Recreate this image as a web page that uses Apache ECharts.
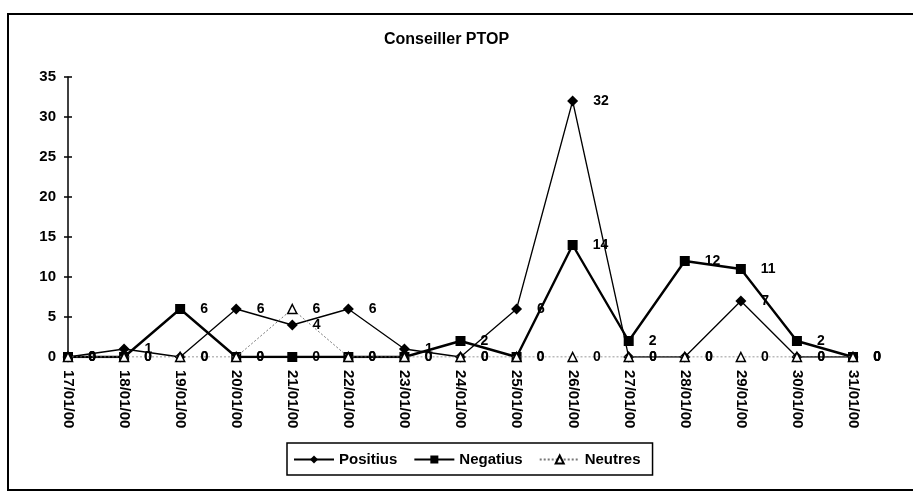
<!DOCTYPE html>
<html>
<head>
<meta charset="utf-8">
<script src="https://cdn.jsdelivr.net/npm/echarts@6/dist/echarts.min.js"></script>
<style>
html,body{margin:0;padding:0;background:#fff;}
#chart{width:913px;height:493px;}
</style>
</head>
<body>
<div id="chart"></div>
<script>
const categories = ['17/01/00','18/01/00','19/01/00','20/01/00','21/01/00','22/01/00','23/01/00','24/01/00','25/01/00','26/01/00','27/01/00','28/01/00','29/01/00','30/01/00','31/01/00'];
const positius = [0, 1, 0, 6, 4, 6, 1, 0, 6, 32, 0, 0, 7, 0, 0];
const negatius = [0, 0, 6, 0, 0, 0, 0, 2, 0, 14, 2, 12, 11, 2, 0];
const neutres  = [0, 0, 0, 0, 6, 0, 0, 0, 0, 0, 0, 0, 0, 0, 0];
const yTicks = [0, 5, 10, 15, 20, 25, 30, 35];

const FONT = '"Liberation Sans", Arial, sans-serif';
const chart = echarts.init(document.getElementById('chart'));

const labelStyle = {
  show: true,
  position: 'right',
  distance: 15,
  color: '#000',
  fontFamily: FONT,
  fontWeight: 'bold',
  fontSize: 14
};

chart.setOption({
  backgroundColor: '#fff',
  animation: false,
  title: {
    text: 'Conseiller PTOP',
    left: 379,
    top: 27,
    textStyle: { fontFamily: FONT, fontWeight: 'bold', fontSize: 16, color: '#000' }
  },
  graphic: [{
    type: 'rect',
    shape: { x: 8, y: 14, width: 920, height: 476 },
    style: { fill: 'none', stroke: '#000', lineWidth: 2 },
    silent: true
  }],
  legend: {
    left: 287,
    top: 443,
    padding: [9, 12, 8, 6],
    itemGap: 16,
    itemWidth: 40,
    itemHeight: 10,
    borderColor: '#000',
    borderWidth: 1.5,
    textStyle: { fontFamily: FONT, fontWeight: 'bold', fontSize: 15, color: '#000' },
    data: ['Positius', 'Negatius', 'Neutres']
  },
  grid: { left: 68, right: 60, top: 77, bottom: 136, containLabel: false },
  xAxis: {
    type: 'category',
    data: categories,
    boundaryGap: false,
    axisLine: { show: false },
    axisTick: { show: false },
    axisLabel: {
      rotate: -90,
      margin: 13,
      color: '#000',
      fontFamily: FONT,
      fontWeight: 'bold',
      fontSize: 15,
      interval: 0
    },
    splitLine: { show: false }
  },
  yAxis: [{
    type: 'value',
    min: 0,
    max: 35,
    interval: 5,
    axisLine: { show: true, lineStyle: { color: '#000', width: 1.5 } },
    axisTick: { show: true, length: 4, lineStyle: { color: '#000', width: 1.5 } },
    axisLabel: {
      margin: 12,
      color: '#000',
      fontFamily: FONT,
      fontWeight: 'bold',
      fontSize: 15,
      formatter: function (v) { return yTicks.indexOf(v) >= 0 ? String(v) : ''; }
    },
    splitLine: { show: false }
  }, {
    type: 'value',
    position: 'left',
    min: 0,
    max: 35,
    interval: 5,
    axisLine: { show: false },
    axisTick: { show: true, inside: true, length: 4, lineStyle: { color: '#000', width: 1.5 } },
    axisLabel: { show: false },
    splitLine: { show: false }
  }],
  series: [{
    name: 'Positius',
    type: 'line',
    data: positius,
    symbol: 'diamond',
    symbolSize: 11,
    lineStyle: { color: '#000', width: 1.3 },
    itemStyle: { color: '#000' },
    label: labelStyle,
    z: 2
  }, {
    name: 'Negatius',
    type: 'line',
    data: negatius,
    symbol: 'rect',
    symbolSize: 10,
    lineStyle: { color: '#000', width: 2.4 },
    itemStyle: { color: '#000' },
    label: labelStyle,
    z: 3
  }, {
    name: 'Neutres',
    type: 'line',
    data: neutres,
    symbol: 'triangle',
    symbolSize: 9,
    lineStyle: { color: '#777', width: 1, type: [2, 2] },
    itemStyle: { color: '#fff', borderColor: '#000', borderWidth: 1.5 },
    label: labelStyle,
    z: 4
  }]
});
</script>
</body>
</html>
